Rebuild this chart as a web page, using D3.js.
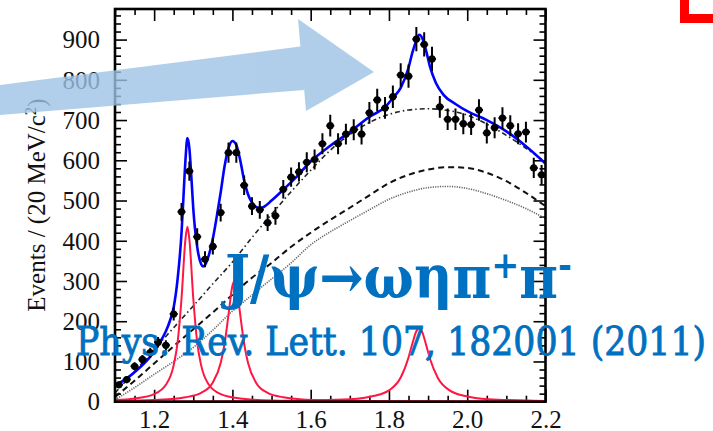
<!DOCTYPE html>
<meta charset="utf-8">
<head>
    <title>J/psi -> omega eta pi+ pi- mass spectrum</title>
    <script src="https://d3js.org/d3.v7.min.js"></script>
    <style>
        body { margin: 0; background: #fff; }
        svg { display: block; }
        .tick text { font-family: 'Liberation Serif', serif; font-size: 25px; fill: #111; }
        .tick line { stroke: #000; stroke-width: 1.6; }
        text.ylabel { font-family: 'Liberation Serif', serif; font-size: 25px; fill: #111; }
        text.overlay { font-family: 'DejaVu Serif', serif; fill: #0070C0; }
    </style>
</head>
<body>
<svg width="713" height="431"></svg>
<script>
    // bin centres (GeV/c^2), 20 MeV bins
    const binCenters = [1.11, 1.13, 1.15, 1.17, 1.19, 1.21, 1.23, 1.25, 1.27, 1.29,
        1.31, 1.33, 1.35, 1.37, 1.39, 1.41, 1.43, 1.45, 1.47, 1.49,
        1.51, 1.53, 1.55, 1.57, 1.59, 1.61, 1.63, 1.65, 1.67, 1.69,
        1.71, 1.73, 1.75, 1.77, 1.79, 1.81, 1.83, 1.85, 1.87, 1.89,
        1.91, 1.93, 1.95, 1.97, 1.99, 2.01, 2.03, 2.05, 2.07, 2.09,
        2.11, 2.13, 2.15, 2.17, 2.19];
    const counts = [42, 55, 88, 105, 122, 148, 140, 218, 472, 573,
        410, 354, 386, 470, 619, 619, 538, 486, 477, 445,
        462, 528, 558, 571, 595, 602, 641, 686, 641, 665,
        676, 665, 718, 750, 730, 758, 812, 809, 901, 888,
        852, 733, 702, 702, 691, 689, 725, 668, 681, 705,
        686, 666, 670, 581, 564];
    const errors = [8, 9, 10, 11, 12, 13, 13, 16, 22, 24,
        21, 20, 20, 22, 25, 25, 24, 22, 22, 21,
        22, 23, 24, 24, 25, 25, 26, 27, 26, 26,
        26, 26, 27, 28, 27, 28, 29, 29, 30, 30,
        30, 27, 27, 27, 26, 26, 27, 26, 26, 27,
        26, 26, 26, 25, 24];

    // total fit (blue)
    const fitX = [1.10, 1.13, 1.16, 1.19, 1.21, 1.23, 1.24, 1.25, 1.26, 1.27, 1.275, 1.28, 1.285, 1.29, 1.295,
        1.30, 1.31, 1.32, 1.325, 1.33, 1.34, 1.35, 1.36, 1.37, 1.38, 1.39, 1.40, 1.41, 1.42, 1.43,
        1.44, 1.45, 1.46, 1.47, 1.48, 1.50, 1.53, 1.56, 1.60, 1.65, 1.70, 1.75, 1.79, 1.81, 1.83,
        1.85, 1.86, 1.87, 1.877, 1.885, 1.895, 1.905, 1.92, 1.94, 1.97, 2.00, 2.05, 2.10, 2.15, 2.20];
    const fitY = [40, 58, 82, 112, 140, 175, 200, 235, 305, 420, 510, 600, 655, 630, 560,
        480, 385, 342, 336, 340, 365, 405, 460, 520, 585, 630, 648, 638, 600, 550,
        515, 495, 484, 481, 484, 500, 527, 555, 597, 636, 670, 708, 732, 755, 780,
        830, 868, 898, 912, 904, 872, 832, 792, 762, 740, 722, 700, 672, 635, 592];

    // background components
    const bgX = [1.10, 1.15, 1.20, 1.25, 1.30, 1.35, 1.40, 1.45, 1.50, 1.55, 1.60, 1.65, 1.70,
        1.75, 1.80, 1.85, 1.90, 1.95, 2.00, 2.05, 2.10, 2.15, 2.20];
    const dashDotY = [22, 75, 130, 184, 238, 293, 347, 408, 466, 522, 575, 625, 664,
        694, 714, 725, 728, 724, 712, 690, 662, 630, 596];
    const dashedY = [12, 52, 95, 138, 180, 222, 266, 308, 345, 385, 420, 452, 482,
        513, 543, 564, 577, 583, 581, 569, 548, 519, 486];
    const dottedY = [5, 35, 68, 100, 135, 178, 225, 265, 305, 345, 390, 422, 450,
        477, 503, 521, 532, 535, 530, 517, 500, 480, 455];

    // resonance signal shapes (red)
    const peak1X = [1.10, 1.15, 1.20, 1.23, 1.25, 1.26, 1.27, 1.28, 1.285, 1.29, 1.30, 1.31, 1.32, 1.34, 1.37, 1.42, 1.50, 1.70, 2.20];
    const peak1Y = [4, 8, 19, 42, 91, 148, 257, 404, 435, 404, 257, 148, 91, 42, 19, 8, 3, 1, 0];
    const peak2X = [1.10, 1.20, 1.28, 1.32, 1.35, 1.37, 1.38, 1.39, 1.40, 1.405, 1.41, 1.42, 1.43, 1.44, 1.46, 1.49, 1.53, 1.61, 1.80, 2.20];
    const peak2Y = [2, 4, 11, 22, 48, 96, 144, 216, 288, 300, 288, 216, 144, 96, 48, 22, 11, 4, 1, 0];
    const peak3X = [1.10, 1.40, 1.60, 1.70, 1.76, 1.80, 1.83, 1.85, 1.86, 1.87, 1.877, 1.885, 1.895, 1.905, 1.925, 1.955, 1.995, 2.055, 2.155, 2.20];
    const peak3Y = [0, 1, 3, 6, 14, 28, 60, 110, 145, 175, 183, 173, 141, 106, 59, 28, 14, 6, 3, 2];

    const xTicks = [1.2, 1.4, 1.6, 1.8, 2.0, 2.2];
    const yTicks = [0, 100, 200, 300, 400, 500, 600, 700, 800, 900];

    const svg = d3.select('svg');

    const plotLeft = 115, plotRight = 545.5, plotTop = 9, plotBottom = 401.7;

    const x = d3.scaleLinear().domain([1.1, 2.2]).range([plotLeft, plotRight]);
    const y = d3.scaleLinear().domain([0, 976]).range([plotBottom, plotTop]);

    const minorX = d3.range(23).map(i => 1.1 + i * 0.05).filter(v => !xTicks.some(t => Math.abs(t - v) < 1e-6));
    const minorY = d3.range(49).map(i => i * 20).filter(v => v % 100 !== 0);

    function drawAxis(axisFn, scale, pos, values, size, labels) {
        const g = svg.append('g')
            .attr('transform', pos)
            .call(axisFn(scale).tickValues(values).tickSize(size)
                .tickFormat(labels ? labels : ''));
        g.select('.domain').remove();
        return g;
    }

    // axes with inward ticks on all four sides
    drawAxis(d3.axisBottom, x, `translate(0,${plotBottom})`, xTicks, -12, d3.format('.1f'))
        .selectAll('.tick text').attr('y', 26).attr('dy', 0);
    drawAxis(d3.axisBottom, x, `translate(0,${plotBottom})`, minorX, -6);
    drawAxis(d3.axisTop, x, `translate(0,${plotTop})`, xTicks, -12);
    drawAxis(d3.axisTop, x, `translate(0,${plotTop})`, minorX, -6);
    drawAxis(d3.axisLeft, y, `translate(${plotLeft},0)`, yTicks, -12, d3.format('d'))
        .selectAll('.tick text').attr('x', -15).attr('dy', '0.33em');
    drawAxis(d3.axisLeft, y, `translate(${plotLeft},0)`, minorY, -6);
    drawAxis(d3.axisRight, y, `translate(${plotRight},0)`, yTicks, -12);
    drawAxis(d3.axisRight, y, `translate(${plotRight},0)`, minorY, -6);

    svg.append('text')
        .attr('class', 'ylabel')
        .attr('transform', 'translate(45,205) rotate(-90)')
        .attr('text-anchor', 'middle')
        .html('Events / (20 MeV/c<tspan dy="-9" font-size="17">2</tspan><tspan dy="9">)</tspan>');

    svg.append('clipPath').attr('id', 'clip')
        .append('rect').attr('x', plotLeft).attr('y', plotTop)
        .attr('width', plotRight - plotLeft).attr('height', plotBottom - plotTop);
    const plot = svg.append('g').attr('clip-path', 'url(#clip)');

    const line = (xs, ys) => d3.line()
        .x((d, i) => x(xs[i]))
        .y((d, i) => y(ys[i]))
        .curve(d3.curveMonotoneX)(xs);

    plot.append('path').attr('d', line(bgX, dottedY))
        .attr('fill', 'none').attr('stroke', '#666').attr('stroke-width', 1.6).attr('stroke-dasharray', '1.2,1.2');
    plot.append('path').attr('d', line(bgX, dashedY))
        .attr('fill', 'none').attr('stroke', '#111').attr('stroke-width', 2).attr('stroke-dasharray', '6,4');
    plot.append('path').attr('d', line(bgX, dashDotY))
        .attr('fill', 'none').attr('stroke', '#222').attr('stroke-width', 1.6).attr('stroke-dasharray', '5,3,1.5,3');

    [[peak1X, peak1Y], [peak2X, peak2Y], [peak3X, peak3Y]].forEach(([xs, ys]) => {
        plot.append('path').attr('d', line(xs, ys))
            .attr('fill', 'none').attr('stroke', '#ff1744').attr('stroke-width', 2);
    });

    plot.append('path').attr('d', line(fitX, fitY))
        .attr('fill', 'none').attr('stroke', '#0000ff').attr('stroke-width', 2.6);

    // data points with error bars
    const pts = plot.selectAll('g.pt')
        .data(binCenters.map((c, i) => ({c, n: counts[i], e: errors[i]})))
        .enter().append('g').attr('class', 'pt');
    pts.append('line')
        .attr('x1', d => x(d.c)).attr('x2', d => x(d.c))
        .attr('y1', d => y(d.n - d.e)).attr('y2', d => y(d.n + d.e))
        .attr('stroke', '#000').attr('stroke-width', 2);
    pts.append('line')
        .attr('x1', d => x(d.c) - 4).attr('x2', d => x(d.c) + 4)
        .attr('y1', d => y(d.n)).attr('y2', d => y(d.n))
        .attr('stroke', '#000').attr('stroke-width', 2);
    pts.append('circle')
        .attr('cx', d => x(d.c)).attr('cy', d => y(d.n)).attr('r', 3.6)
        .attr('fill', '#000');

    // frame
    svg.append('rect')
        .attr('x', plotLeft).attr('y', plotTop)
        .attr('width', plotRight - plotLeft).attr('height', plotBottom - plotTop)
        .attr('fill', 'none').attr('stroke', '#000').attr('stroke-width', 2.6);

    // slide decorations: arrow, red corner mark, captions
    const arrow = svg.append('g').attr('opacity', 0.8);
    arrow.append('polygon')
        .attr('points', '0,85 304,46 304,90 0,115')
        .attr('fill', '#9DC3E6');
    arrow.append('polygon')
        .attr('points', '298,19 374,72 306,111')
        .attr('fill', '#9DC3E6');

    svg.append('polygon')
        .attr('points', '680,0 689,0 689,14 713,14 713,23 680,23')
        .attr('fill', '#ff0000');

    svg.append('text')
        .attr('class', 'overlay')
        .attr('x', 225).attr('y', 298)
        .attr('font-size', 60).attr('font-weight', 'bold')
        .attr('textLength', 347).attr('lengthAdjust', 'spacingAndGlyphs')
        .html('J/ψ→ωηπ<tspan dy="-20" font-size="38">+</tspan><tspan dy="20">π</tspan><tspan dy="-20" font-size="38">-</tspan>');

    svg.append('text')
        .attr('class', 'overlay')
        .attr('x', 76).attr('y', 355)
        .attr('font-size', 40)
        .attr('stroke', '#0070C0').attr('stroke-width', 0.9)
        .attr('textLength', 630).attr('lengthAdjust', 'spacingAndGlyphs')
        .text('Phys. Rev. Lett. 107, 182001 (2011)');
</script>
</body>
